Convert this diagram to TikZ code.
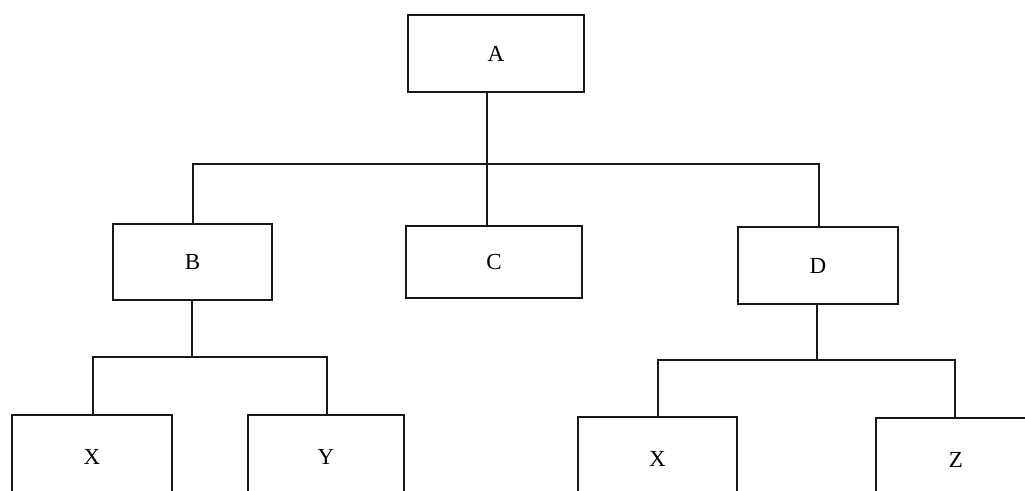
\documentclass[tikz,border=0pt]{standalone}
\usepackage{fontspec}
\setmainfont{Liberation Serif}
\begin{document}
\begin{tikzpicture}[x=1pt,y=-1pt,
  box/.style={draw=black!90, line width=2pt, rectangle, inner sep=0pt, font=\fontsize{23}{26}\selectfont},
  link/.style={draw=black!90, line width=2pt, line join=miter}]
\useasboundingbox (0,0) rectangle (1025,490);
\fill[white] (0,0) rectangle (1025,490);
\clip (0,0) rectangle (1025,490);
% boxes
\node[box, minimum width=176pt, minimum height=77pt] (A) at (496,53.5) {A};
\node[box, minimum width=159pt, minimum height=76pt] (B) at (192.5,262) {B};
\node[box, minimum width=176pt, minimum height=72pt] (C) at (494,262) {C};
\node[box, minimum width=160pt, minimum height=77pt] (D) at (818,265.5) {D};
\node[box, minimum width=160pt, minimum height=84pt] (X1) at (92,457) {X};
\node[box, minimum width=156pt, minimum height=84pt] (Y) at (326,457) {Y};
\node[box, minimum width=159pt, minimum height=84pt] (X2) at (657.5,459) {X};
\node[box, minimum width=160pt, minimum height=84pt] (Z) at (956,460) {Z};
% junctions
\coordinate (jl) at (193,164);
\coordinate (jc) at (487,164);
\coordinate (jr) at (819,164);
\coordinate (bl) at (93,357);
\coordinate (bc) at (192,357);
\coordinate (br) at (327,357);
\coordinate (dl) at (658,360);
\coordinate (dc) at (817,360);
\coordinate (dr) at (955,360);
% connectors
\draw[link] (A.south -| jc) -- (jc) -- (C.north -| jc);
\draw[link] (B.north -| jl) -- (jl) -- (jr) -- (D.north -| jr);
\draw[link] (B.south -| bc) -- (bc);
\draw[link] (X1.north -| bl) -- (bl) -- (br) -- (Y.north -| br);
\draw[link] (D.south -| dc) -- (dc);
\draw[link] (X2.north -| dl) -- (dl) -- (dr) -- (Z.north -| dr);
\end{tikzpicture}
\end{document}
